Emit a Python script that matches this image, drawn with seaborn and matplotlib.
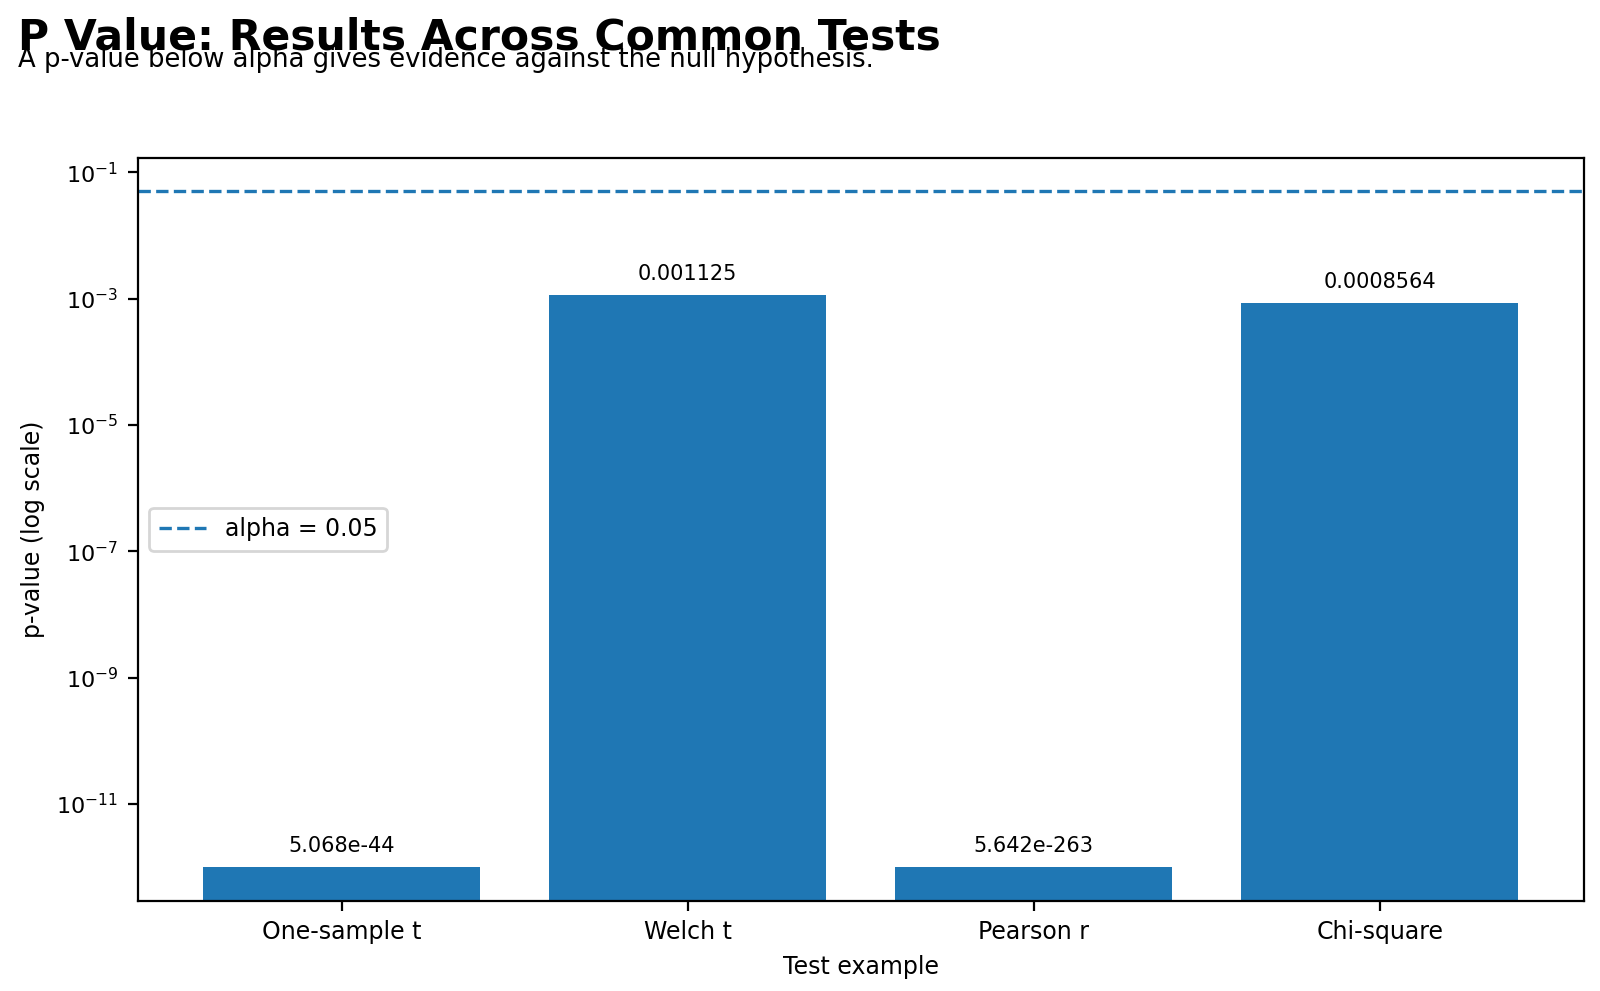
import numpy as np
import pandas as pd
import matplotlib
matplotlib.use("Agg")
import matplotlib.pyplot as plt
import seaborn as sns

# dados
testes = ["One-sample t", "Welch t", "Pearson r", "Chi-square"]
p_valores = [5.068e-44, 0.001125, 5.642e-263, 0.0008564]
alpha = 0.05
piso = 1e-12  # valores minusculos sao cortados aqui para caber no log

df = pd.DataFrame({"teste": testes, "p": p_valores})
df["altura"] = np.maximum(df["p"], piso)

fig, ax = plt.subplots(figsize=(8, 4.955), dpi=200)
fig.subplots_adjust(left=0.086, right=0.99, top=0.841, bottom=0.091)

sns.barplot(data=df, x="teste", y="altura", color="#1f77b4", saturation=1,
            width=0.8, ax=ax)
ax.set_yscale("log")
ax.axhline(alpha, color="#1f77b4", linestyle="--", linewidth=1.2,
           label=f"alpha = {alpha}")
ax.autoscale(enable=True, axis="x")

# rotulos em cima das barras
for i, (h, p) in enumerate(zip(df["altura"], df["p"])):
    ax.annotate(f"{p:.4g}", (i, h), xytext=(0, 4), textcoords="offset points",
                ha="center", va="bottom", fontsize=7.5)

ax.set_xlabel("Test example", fontsize=8.5)
ax.set_ylabel("p-value (log scale)", fontsize=8.5)
ax.tick_params(axis="x", labelsize=8.5)
ax.tick_params(axis="y", labelsize=8)
ax.legend(loc="center left", fontsize=8.5)

fig.text(0.011, 0.950, "P Value: Results Across Common Tests",
         fontsize=15.3, fontweight="bold", ha="left", va="baseline")
fig.text(0.011, 0.932, "A p-value below alpha gives evidence against the null hypothesis.",
         fontsize=9.3, ha="left", va="baseline")

fig.savefig("out.png", dpi=200)
